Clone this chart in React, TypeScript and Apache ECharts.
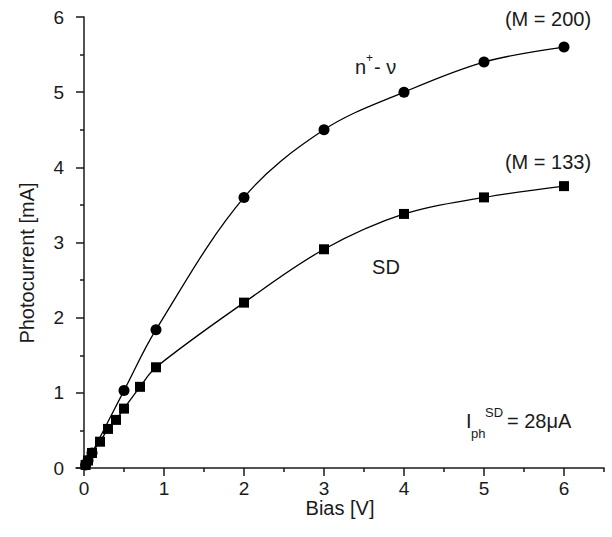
import React, { useEffect, useRef } from "react";
import * as echarts from "echarts";

const biasN = [0.02, 0.05, 0.1, 0.5, 0.9, 2, 3, 4, 5, 6];
const currentN = [0.04, 0.1, 0.2, 1.03, 1.84, 3.6, 4.5, 5.0, 5.4, 5.6];

const biasSD = [0.02, 0.05, 0.1, 0.2, 0.3, 0.4, 0.5, 0.7, 0.9, 2, 3, 4, 5, 6];
const currentSD = [0.04, 0.1, 0.2, 0.35, 0.52, 0.64, 0.79, 1.08, 1.34, 2.2, 2.91, 3.38, 3.6, 3.75];

const xMajorTicks = [0, 1, 2, 3, 4, 5, 6];
const xMinorTicks = [0.5, 1.5, 2.5, 3.5, 4.5, 5.5, 6.5];

const FONT = "'Liberation Sans', Arial, sans-serif";
const INK = "#1a1a1a";

export default function App() {
  const ref = useRef<HTMLDivElement>(null);
  useEffect(() => {
    document.body.style.margin = "0";
    const chart = echarts.init(ref.current!, null, { renderer: "svg" });
    const pairs = (xs: number[], ys: number[]) => xs.map((x, i) => [x, ys[i]]);
    const axisLine = { show: true, lineStyle: { color: INK, width: 1.5 } };
    const txt = (text: string, x: number, y: number, fontSize: number, align = "center", extra: any = {}) => ({
      type: "text",
      x,
      y,
      ...extra,
      style: { text, fontSize, fill: INK, fontFamily: FONT, align, verticalAlign: "middle" },
    });
    chart.setOption({
      animation: false,
      backgroundColor: "#fff",
      grid: { left: 76, right: 8, top: 17, bottom: 69 },
      xAxis: [
        {
          type: "value",
          min: -0.1,
          max: 6.5,
          axisLine,
          splitLine: { show: false },
          axisTick: { show: true, inside: false, length: 8, lineStyle: { color: INK, width: 1.5 }, customValues: xMajorTicks },
          axisLabel: { customValues: xMajorTicks, fontSize: 19, color: INK, fontFamily: FONT, margin: 11 },
        },
        {
          type: "value",
          min: -0.1,
          max: 6.5,
          position: "bottom",
          axisLine: { show: false },
          splitLine: { show: false },
          axisTick: { show: true, inside: false, length: 4, lineStyle: { color: INK, width: 1.5 }, customValues: xMinorTicks },
          axisLabel: { show: false },
        },
      ],
      yAxis: {
        type: "value",
        min: 0,
        max: 6,
        interval: 1,
        axisLine,
        splitLine: { show: false },
        axisTick: { show: true, inside: false, length: 8, lineStyle: { color: INK, width: 1.5 } },
        minorTick: { show: true, splitNumber: 2, length: 4, lineStyle: { color: INK, width: 1.5 } },
        axisLabel: { fontSize: 19, color: INK, fontFamily: FONT, margin: 12 },
      },
      series: [
        {
          name: "n+-ν",
          type: "line",
          data: pairs(biasN, currentN),
          smooth: 0.35,
          symbol: "circle",
          symbolSize: 11,
          itemStyle: { color: "#000" },
          lineStyle: { color: "#000", width: 1.3 },
        },
        {
          name: "SD",
          type: "line",
          data: pairs(biasSD, currentSD),
          smooth: 0.35,
          symbol: "rect",
          symbolSize: 10,
          itemStyle: { color: "#000" },
          lineStyle: { color: "#000", width: 1.3 },
        },
      ],
      graphic: [
        txt("Bias [V]", 340, 508, 20),
        txt("Photocurrent [mA]", 27, 263, 20, "center", { rotation: Math.PI / 2 }),
        txt("(M = 200)", 548, 19, 20),
        txt("(M = 133)", 548, 162, 20),
        txt("n", 355, 67, 20, "left"),
        txt("+", 366, 58, 12, "left"),
        txt("- ν", 374, 67, 20, "left"),
        txt("SD", 386, 267, 20),
        txt("I", 466, 421, 20, "left"),
        txt("ph", 471, 433, 13, "left"),
        txt("SD", 485, 412, 13, "left"),
        txt("= 28μA", 507, 421, 20, "left"),
      ],
    });
    return () => chart.dispose();
  }, []);
  return <div ref={ref} style={{ width: 612, height: 537 }} />;
}
